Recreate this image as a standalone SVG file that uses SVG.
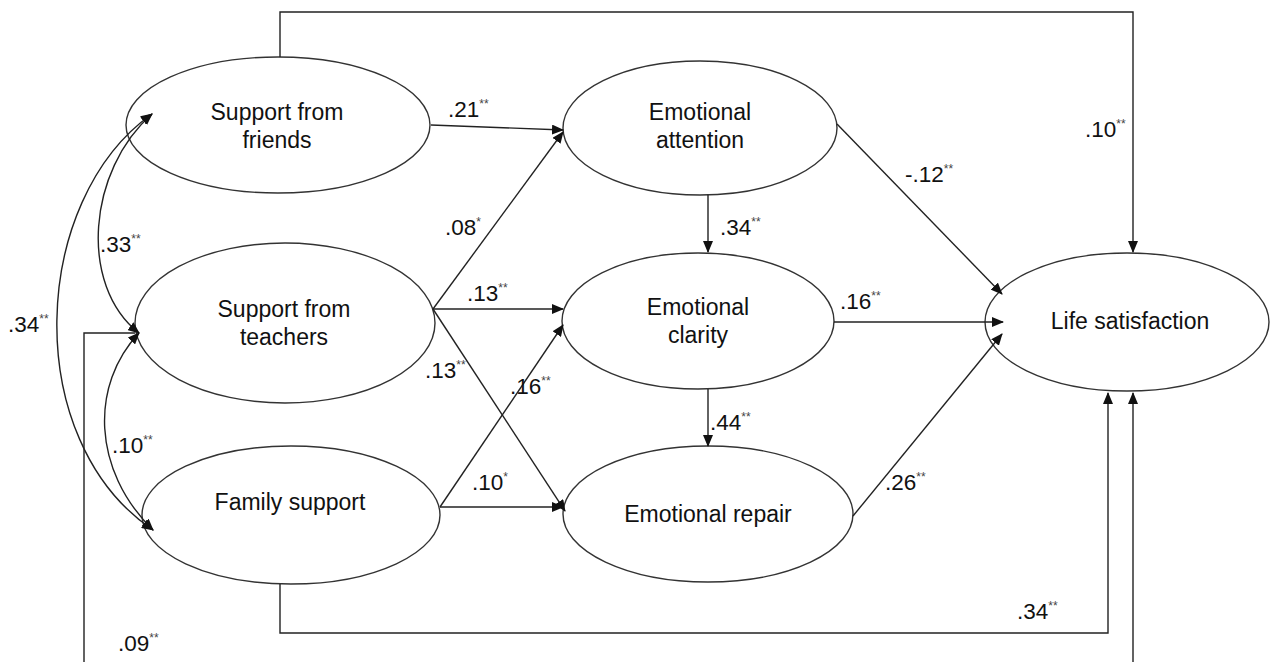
<svg xmlns="http://www.w3.org/2000/svg" width="1270" height="662" viewBox="0 0 1270 662">
<style>
.node ellipse{fill:#fff;stroke:#333;stroke-width:1.4}
.node text{font-family:"Liberation Sans",Arial,sans-serif;font-size:23px;fill:#111;text-anchor:middle}
.edges path{fill:none;stroke:#222;stroke-width:1.4}
.lbl{font-family:"Liberation Sans",Arial,sans-serif;font-size:22.5px;fill:#111}
.st{font-size:12px;fill:#444}
</style>
<defs>
<marker id="ah" viewBox="0 0 12 10" refX="11" refY="5" markerWidth="12" markerHeight="10" markerUnits="userSpaceOnUse" orient="auto-start-reverse">
<path d="M0,0 L12,5 L0,10 Z" fill="#111"/>
</marker>
</defs>
<rect width="1270" height="662" fill="#fff"/>
<g class="node" id="friends"><ellipse cx="278" cy="125" rx="152" ry="68"/><text x="277" y="120">Support from</text><text x="277" y="148">friends</text></g>
<g class="node" id="teachers"><ellipse cx="285" cy="323" rx="150" ry="80"/><text x="284" y="317">Support from</text><text x="284" y="345">teachers</text></g>
<g class="node" id="family"><ellipse cx="291" cy="515" rx="149" ry="69"/><text x="290" y="510">Family support</text></g>
<g class="node" id="attention"><ellipse cx="700" cy="128" rx="137" ry="67"/><text x="700" y="120">Emotional</text><text x="700" y="148">attention</text></g>
<g class="node" id="clarity"><ellipse cx="698" cy="321" rx="136" ry="68"/><text x="698" y="315">Emotional</text><text x="698" y="343">clarity</text></g>
<g class="node" id="repair"><ellipse cx="708" cy="514" rx="145" ry="68"/><text x="708" y="522">Emotional repair</text></g>
<g class="node" id="life"><ellipse cx="1127" cy="322" rx="142" ry="69"/><text x="1130" y="329">Life satisfaction</text></g>
<g class="edges" id="connectors">
<path d="M280,57 V12 H1133 V252" marker-end="url(#ah)"/>
<path d="M280,584 V633 H1108 V393" marker-end="url(#ah)"/>
<path d="M135,333 H84 V700 H1133 V393" marker-end="url(#ah)"/>
<path d="M152,114 C88,170 78,285 139,333" marker-start="url(#ah)" marker-end="url(#ah)"/>
<path d="M152,114 C30,200 20,440 153,530" marker-start="url(#ah)" marker-end="url(#ah)"/>
<path d="M139,333 C90,385 92,470 153,530" marker-start="url(#ah)" marker-end="url(#ah)"/>
<path d="M431,125 L563,130" marker-end="url(#ah)"/>
<path d="M433,309 L563,132" marker-end="url(#ah)"/>
<path d="M433,309 L563,309" marker-end="url(#ah)"/>
<path d="M433,309 L565,511" marker-end="url(#ah)"/>
<path d="M440,507 L563,325" marker-end="url(#ah)"/>
<path d="M440,507 L563,507" marker-end="url(#ah)"/>
<path d="M708,195 L708,252" marker-end="url(#ah)"/>
<path d="M708,389 L708,446" marker-end="url(#ah)"/>
<path d="M837,124 L1002,294" marker-end="url(#ah)"/>
<path d="M834,322 L1003,322" marker-end="url(#ah)"/>
<path d="M853,516 L1002,334" marker-end="url(#ah)"/>
</g>
<g id="labels" class="lbl">
<text x="448" y="117">.21<tspan class="st" dy="-9">**</tspan></text>
<text x="445" y="235">.08<tspan class="st" dy="-9">*</tspan></text>
<text x="467" y="301">.13<tspan class="st" dy="-9">**</tspan></text>
<text x="425" y="378">.13<tspan class="st" dy="-9">**</tspan></text>
<text x="510" y="394">.16<tspan class="st" dy="-9">**</tspan></text>
<text x="472" y="490">.10<tspan class="st" dy="-9">*</tspan></text>
<text x="720" y="235">.34<tspan class="st" dy="-9">**</tspan></text>
<text x="905" y="182">-.12<tspan class="st" dy="-9">**</tspan></text>
<text x="840" y="309">.16<tspan class="st" dy="-9">**</tspan></text>
<text x="710" y="430">.44<tspan class="st" dy="-9">**</tspan></text>
<text x="885" y="490">.26<tspan class="st" dy="-9">**</tspan></text>
<text x="1085" y="137">.10<tspan class="st" dy="-9">**</tspan></text>
<text x="1017" y="619">.34<tspan class="st" dy="-9">**</tspan></text>
<text x="118" y="651">.09<tspan class="st" dy="-9">**</tspan></text>
<text x="100" y="252">.33<tspan class="st" dy="-9">**</tspan></text>
<text x="8" y="332">.34<tspan class="st" dy="-9">**</tspan></text>
<text x="112" y="453">.10<tspan class="st" dy="-9">**</tspan></text>
</g>
</svg>
